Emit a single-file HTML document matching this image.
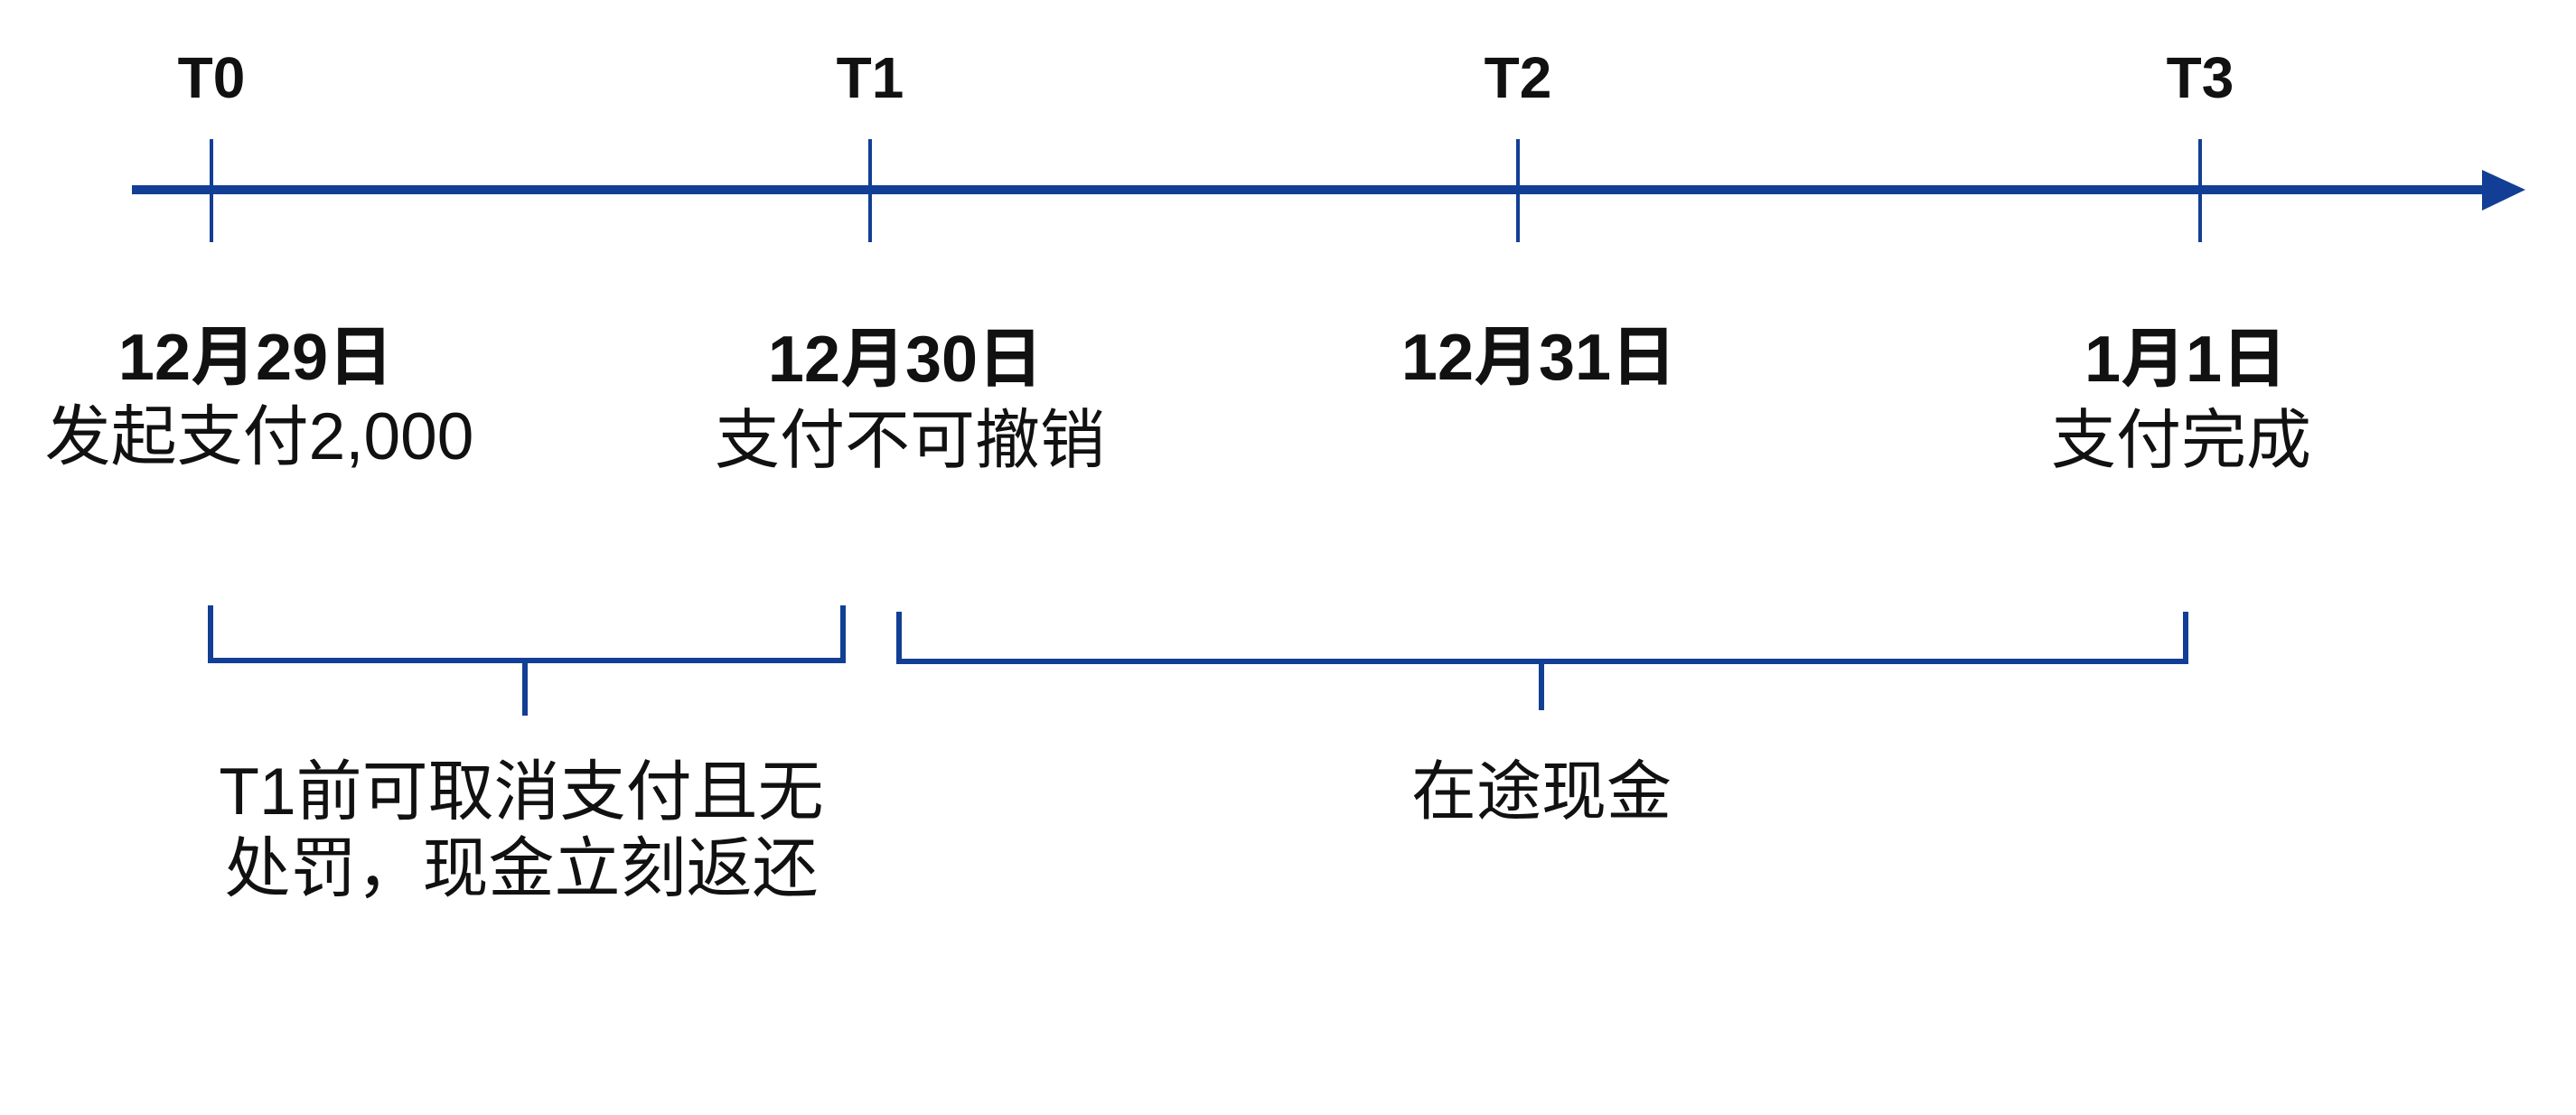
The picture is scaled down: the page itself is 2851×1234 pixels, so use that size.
<!DOCTYPE html>
<html><head><meta charset="utf-8"><style>
html,body{margin:0;padding:0;background:#fff;}
svg{display:block;}
text{font-family:"Liberation Sans","Noto Sans CJK SC",sans-serif;fill:#111;}
.b{font-weight:bold;}
</style></head><body>
<svg width="2851" height="1234" viewBox="0 0 2851 1234" xmlns="http://www.w3.org/2000/svg">
<g stroke="#123f95" fill="none">
<line x1="146" y1="210" x2="2755" y2="210" stroke-width="10"/>
<line x1="234" y1="154" x2="234" y2="268" stroke-width="4"/>
<line x1="963" y1="154" x2="963" y2="268" stroke-width="4"/>
<line x1="1680" y1="154" x2="1680" y2="268" stroke-width="4"/>
<line x1="2435" y1="154" x2="2435" y2="268" stroke-width="4"/>
<polyline points="233,670 233,731 933,731 933,670" stroke-width="6"/>
<line x1="581" y1="731" x2="581" y2="792" stroke-width="6"/>
<polyline points="995,677 995,732 2419,732 2419,677" stroke-width="6"/>
<line x1="1706" y1="732" x2="1706" y2="786" stroke-width="6"/>
</g>
<polygon points="2747,188 2795,210 2747,233" fill="#123f95"/>
<text class="b" x="234" y="108" font-size="64" text-anchor="middle">T0</text>
<text class="b" x="963" y="108" font-size="64" text-anchor="middle">T1</text>
<text class="b" x="1680" y="108" font-size="64" text-anchor="middle">T2</text>
<text class="b" x="2435" y="108" font-size="64" text-anchor="middle">T3</text>
<text class="b" x="283" y="420" font-size="72" text-anchor="middle">12月29日</text>
<text class="b" x="1002" y="422" font-size="72" text-anchor="middle">12月30日</text>
<text class="b" x="1703" y="420" font-size="72" text-anchor="middle">12月31日</text>
<text class="b" x="2419" y="422" font-size="72" text-anchor="middle">1月1日</text>
<text x="287" y="508" font-size="73" text-anchor="middle">发起支付2,000</text>
<text x="1007" y="512" font-size="72" text-anchor="middle">支付不可撤销</text>
<text x="2414" y="512" font-size="72" text-anchor="middle">支付完成</text>
<text x="577" y="901" font-size="73" text-anchor="middle">T1前可取消支付且无</text>
<text x="577" y="986" font-size="73" text-anchor="middle">处罚，现金立刻返还</text>
<text x="1706" y="901" font-size="72" text-anchor="middle">在途现金</text>
</svg>
</body></html>
